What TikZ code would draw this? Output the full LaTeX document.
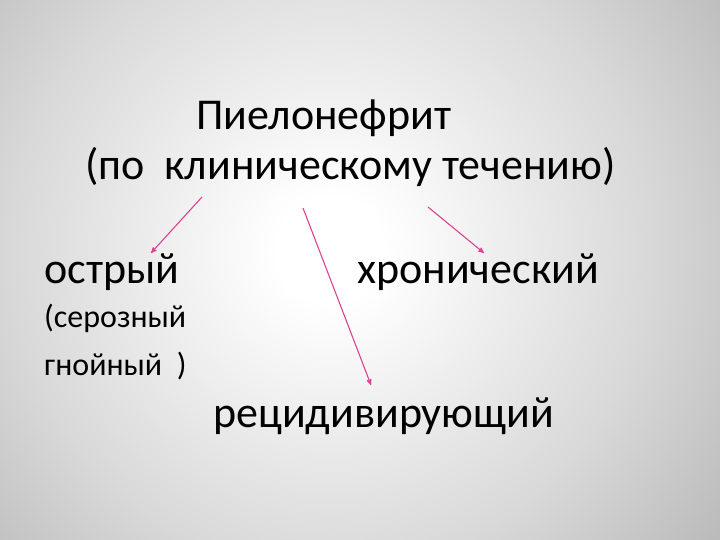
\documentclass[tikz,border=0pt]{standalone}
\usepackage{fontspec}
\setmainfont{Carlito}
\usepackage{tikz}
\usetikzlibrary{positioning,calc,arrows}
\definecolor{arrowpink}{RGB}{221,66,146}
\pgfdeclareradialshading{slidebg}{\pgfpoint{0bp}{0bp}}{%
  color(0bp)=(white); color(3bp)=(white); color(18bp)=(black!15);
  color(30bp)=(black!30); color(44bp)=(black!37); color(50bp)=(black!43)}
\tikzset{
  big/.style   = {font=\fontsize{44}{48}\selectfont, inner sep=0pt, anchor=base west},
  small/.style = {font=\fontsize{32}{36}\selectfont, inner sep=0pt, anchor=base west},
  post/.style  = {->, >=stealth', arrowpink, line width=1.1pt}
}

\begin{document}
\begin{tikzpicture}[x=1pt,y=-1pt]
  \useasboundingbox (0,0) rectangle (720,540);
  \begin{scope}
    \clip (0,0) rectangle (720,540);
    \shade[shading=slidebg] (-110,-190) rectangle (770,690);
  \end{scope}

  \node[big] (title) at (196,130) {Пиелонефрит};
  \node[big] (sub)   at (85,180)  {(по\ \ клиническому течению)};
  \node[big] (acute) at (44,283)  {острый};
  \node[big] (chron) at (357,283) {хронический};
  \node[small] (ser) at (44,327)  {(серозный};
  \node[small] (pur) at (44,375)  {гнойный\ \ )};
  \node[big] (rec)   at (213,427) {рецидивирующий};

  \coordinate (s1) at (202,197);
  \coordinate (s2) at (303,208);
  \coordinate (s3) at (428,207);
  \coordinate (e1) at (151,253);
  \coordinate (e2) at (371,385);
  \coordinate (e3) at (484,253);

  \draw[post] (s1) -- (e1);
  \draw[post] (s2) -- (e2);
  \draw[post] (s3) -- (e3);
\end{tikzpicture}
\end{document}
